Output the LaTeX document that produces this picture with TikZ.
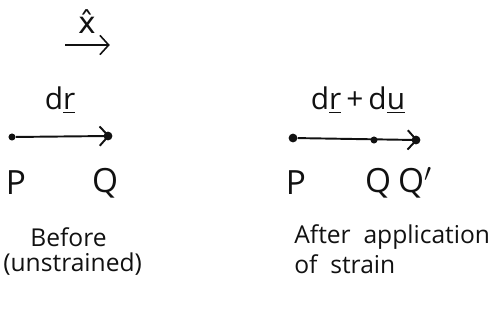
\documentclass[tikz,border=0pt]{standalone}
\usepackage{fontspec}
\setmainfont{Open Sans}
\newfontfamily\hatfont{DejaVu Sans}
\usetikzlibrary{arrows.meta,positioning}
\definecolor{Ink}{HTML}{111111}

\begin{document}
\begin{tikzpicture}[
    x=0.02cm, y=-0.02cm,
    dot/.style={circle, fill=Ink, inner sep=0pt, minimum size=5pt},
    smalldot/.style={circle, fill=Ink, inner sep=0pt, minimum size=4pt},
    vector/.style={-{Straight Barb[length=5pt,width=11pt]}, line width=1.1pt,
                   draw=Ink, shorten >=-1pt},
    pointlabel/.style={font=\fontsize{19}{22}\selectfont, text=Ink},
    caption/.style={font=\fontsize{14}{17}\selectfont, text=Ink, anchor=west,
                    inner sep=0pt},
    veclabel/.style={font=\fontsize{17}{20}\selectfont, text=Ink}
]
\useasboundingbox (0,0) rectangle (503,322);

% Unit direction
\node[veclabel, font=\fontsize{17}{20}\hatfont] (xhat) at (87,22) {\^{x}};
\coordinate (xstart) at (65,45);
\coordinate (xend) at (108,45);
\draw[vector, line width=0.9pt] (xstart) -- (xend);

% Before: unstrained element
\node[smalldot] (p1) at (12,137) {};
\node[dot] (q1) at (108,136) {};
\draw[vector] (p1) -- (q1.center);
\node[veclabel] (dr1) at (60,100) {d\underline{r}};
\node[pointlabel] (P1) at (16,183) {P};
\node[pointlabel] (Q1) at (105,183) {Q};
\node[caption] (before) at (30,237) {Before};
\node[caption] (unstr) at (3,264) {(unstrained)};

% After: strained element
\node[dot] (p2) at (293,138) {};
\node[smalldot] (q2) at (374,140) {};
\node[dot] (q2p) at (416,140) {};
\draw[vector] (p2) -- (q2p.center);
\node[veclabel] (dr2) at (358,100) {d\underline{r}\,+\,d\underline{u}};
\node[pointlabel] (P2) at (296,183) {P};
\node[pointlabel] (Q2) at (378,183) {Q};
\node[pointlabel] (Q2p) at (415,183) {Q$'$};
\node[caption] (after) at (294,237) {After~~application};
\node[caption] (strain) at (294,264) {of~~strain};

\end{tikzpicture}
\end{document}
